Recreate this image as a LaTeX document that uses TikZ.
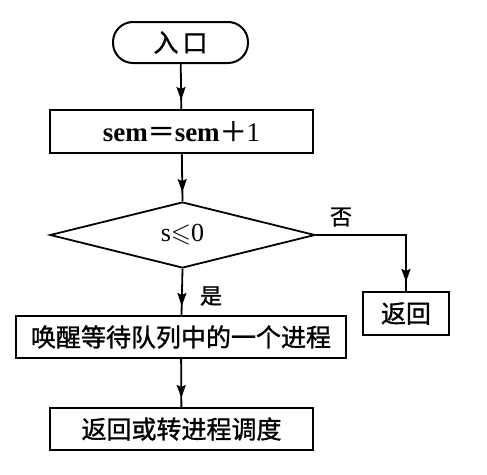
\documentclass[tikz,border=0pt]{standalone}
\usepackage{amssymb}
\usepackage{fontspec}
\setmainfont{Liberation Serif}
\newfontfamily\cjk{Noto Sans CJK SC}[FakeBold=1.2]
\usetikzlibrary{shapes.geometric,arrows.meta,decorations.markings}
\tikzset{
  box/.style={draw,line width=2pt,rectangle,inner sep=0pt,font=\fontsize{25}{25}\selectfont},
  term/.style={box,rounded corners=20pt},
  dec/.style={draw,line width=1.8pt,diamond,inner sep=0pt,font=\fontsize{26}{26}\selectfont},
  lbl/.style={font=\fontsize{22}{22}\selectfont\cjk,inner sep=0pt},
  flow/.style={line width=1.8pt,postaction={decorate},
    decoration={markings,mark=at position -9pt with {\arrow{Stealth[length=13pt,width=9pt,inset=2pt]}}}},
}
\begin{document}
\begin{tikzpicture}[x=1pt,y=-1pt]
\useasboundingbox (0,0) rectangle (487,474);
\node[term,minimum width=135pt,minimum height=41pt] (start) at (180.5,42.5) {\cjk 入\,口};
\node[box,minimum width=263pt,minimum height=43pt,font=\fontsize{27}{27}\selectfont] (inc) at (181.5,131.5) {\textbf{sem}{\cjk ＝}\textbf{sem}{\cjk ＋}1};
\node[dec,minimum width=265pt,minimum height=66pt] (test) at (182.5,235) {s$\leqslant$0};
\node[box,minimum width=86pt,minimum height=43pt] (ret) at (406,313.5) {\cjk 返回};
\node[box,minimum width=330pt,minimum height=42pt] (wake) at (181,337) {\cjk 唤醒等待队列中的一个进程};
\node[box,minimum width=263pt,minimum height=42pt] (fin) at (181.5,429) {\cjk 返回或转进程调度};
\node[lbl] (no) at (341,217) {否};
\node[lbl] (yes) at (211,296) {是};
\draw[flow] (start) -- (inc);
\draw[flow] (inc) -- (test.north);
\draw[flow] (test.south) -- (wake);
\draw[flow] (wake) -- (fin);
\draw[flow] (test.east) -| (ret.north);
\end{tikzpicture}
\end{document}
